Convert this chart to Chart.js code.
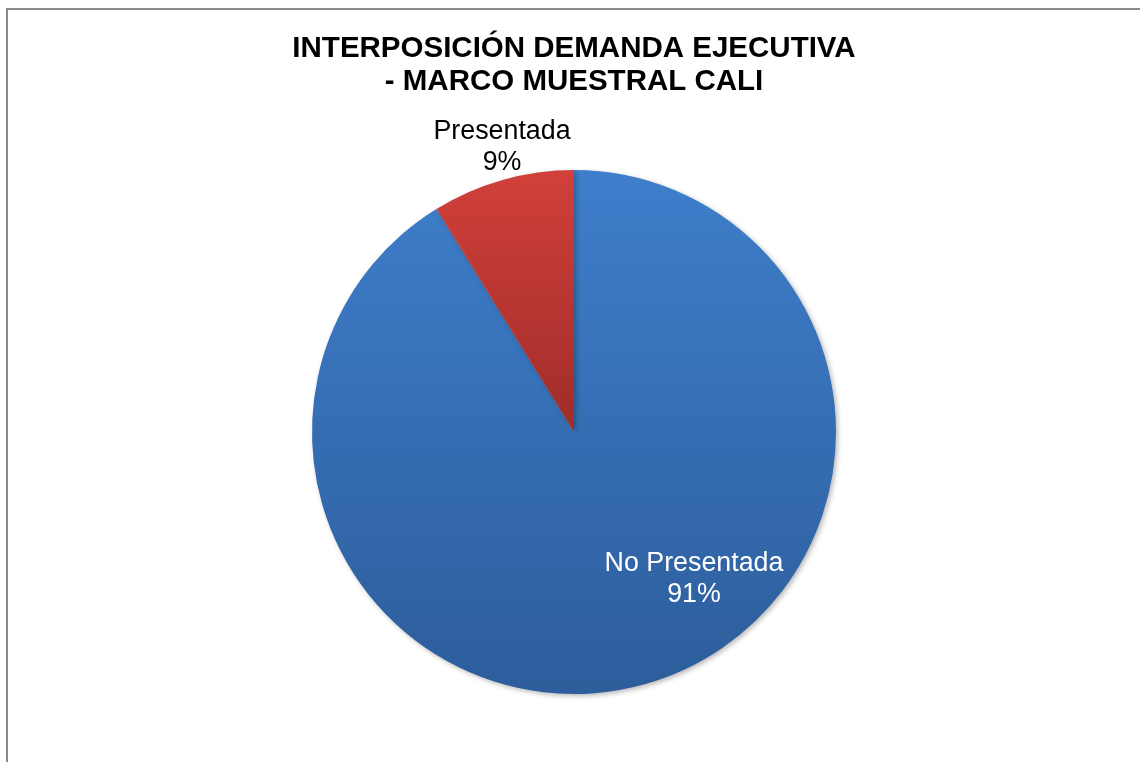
<!DOCTYPE html>
<html>
<head>
<meta charset="utf-8">
<script src="https://cdn.jsdelivr.net/npm/chart.js@4"></script>
<style>
    html, body { margin: 0; padding: 0; background: #fff; }
    #chart-container { position: relative; width: 1140px; height: 762px; }
</style>
</head>
<body>
<div id="chart-container"><canvas id="pieChart" width="1140" height="762"></canvas></div>
<script>
const categories = ['No Presentada', 'Presentada'];
const values = [91.2, 8.8];
const titleLines = ['INTERPOSICIÓN DEMANDA EJECUTIVA', '- MARCO MUESTRAL CALI'];

// colores arriba / abajo de cada porcion (degradado tipo Excel)
const topColors = ['#3e7ecb', '#d2403b'];
const bottomColors = ['#2d5d9b', '#9f2c29'];

function sliceGradient(context) {
    const chart = context.chart;
    const area = chart.chartArea;
    if (!area) return topColors[context.dataIndex];
    const i = context.dataIndex;
    const midY = (area.top + area.bottom) / 2;
    const endY = i === 0 ? area.bottom : midY;
    const g = chart.ctx.createLinearGradient(0, area.top, 0, endY);
    g.addColorStop(0, topColors[i]);
    g.addColorStop(1, bottomColors[i]);
    return g;
}

const framePlugin = {
    id: 'frame',
    beforeDraw(chart) {
        const ctx = chart.ctx;
        ctx.save();
        ctx.fillStyle = '#8a8a8a';
        ctx.fillRect(6, 8, 1134, 2);
        ctx.fillRect(6, 8, 2, 754);
        ctx.restore();
    }
};

const shadowPlugin = {
    id: 'pieShadow',
    beforeDatasetDraw(chart) {
        const ctx = chart.ctx;
        ctx.save();
        ctx.shadowColor = 'rgba(0, 0, 0, 0.28)';
        ctx.shadowBlur = 5;
        ctx.shadowOffsetX = 2;
        ctx.shadowOffsetY = 2;
    },
    afterDatasetDraw(chart) {
        chart.ctx.restore();
    }
};

const labelsPlugin = {
    id: 'textLabels',
    afterDraw(chart) {
        const ctx = chart.ctx;
        ctx.save();
        ctx.textAlign = 'center';
        ctx.textBaseline = 'alphabetic';

        // titulo
        ctx.fillStyle = '#000';
        ctx.font = "bold 29.5px 'Liberation Sans', Arial, sans-serif";
        ctx.fillText(titleLines[0], 574, 57);
        ctx.fillText(titleLines[1], 574, 90);

        // etiquetas de datos
        const total = values.reduce((a, b) => a + b, 0);
        const pos = [
            { x: 694, y: 571, color: '#ffffff' },
            { x: 502, y: 139, color: '#000000' }
        ];
        ctx.font = "26.8px 'Liberation Sans', Arial, sans-serif";
        categories.forEach((name, i) => {
            const pct = Math.round(values[i] / total * 100) + '%';
            ctx.fillStyle = pos[i].color;
            ctx.fillText(name, pos[i].x, pos[i].y);
            ctx.fillText(pct, pos[i].x, pos[i].y + 31);
        });
        ctx.restore();
    }
};

new Chart(document.getElementById('pieChart').getContext('2d'), {
    type: 'pie',
    data: {
        labels: categories,
        datasets: [{
            data: values,
            backgroundColor: sliceGradient,
            borderWidth: 0
        }]
    },
    options: {
        responsive: false,
        animation: false,
        layout: {
            padding: { top: 170, bottom: 68, left: 312, right: 304 }
        },
        plugins: {
            legend: { display: false },
            title: { display: false },
            tooltip: { enabled: false }
        }
    },
    plugins: [framePlugin, shadowPlugin, labelsPlugin]
});
</script>
</body>
</html>
